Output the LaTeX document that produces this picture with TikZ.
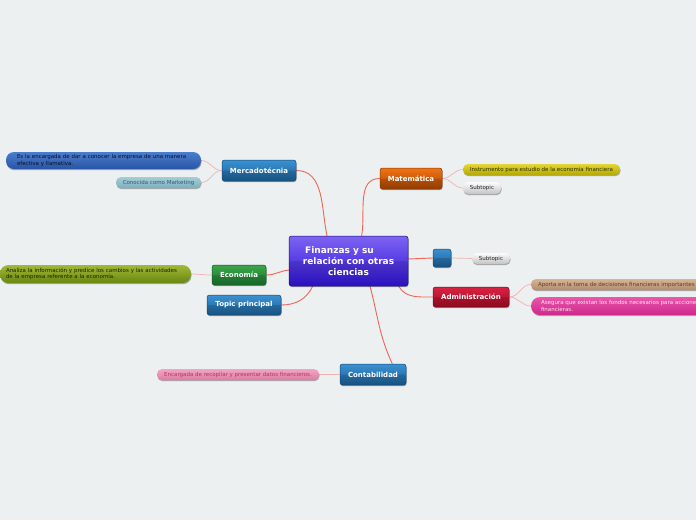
\documentclass[tikz,border=0pt]{standalone}
\usepackage{fontspec}
\setmainfont{DejaVu Sans}
\usetikzlibrary{shadows,backgrounds,calc}
\definecolor{bg}{RGB}{236,240,241}
\definecolor{mainline}{RGB}{240,100,85}
\definecolor{subline}{RGB}{244,176,176}
\definecolor{blueT}{RGB}{58,145,210}
\definecolor{blueB}{RGB}{28,95,150}
\definecolor{blueD}{RGB}{20,70,115}
\definecolor{purT}{RGB}{125,100,240}
\definecolor{purB}{RGB}{50,20,220}
\definecolor{purD}{RGB}{30,15,110}
\definecolor{grnT}{RGB}{60,165,75}
\definecolor{grnB}{RGB}{25,120,45}
\definecolor{grnD}{RGB}{20,85,35}
\definecolor{orT}{RGB}{240,115,20}
\definecolor{orB}{RGB}{170,70,0}
\definecolor{orD}{RGB}{130,55,0}
\definecolor{redT}{RGB}{215,35,65}
\definecolor{redB}{RGB}{165,10,35}
\definecolor{redD}{RGB}{120,10,30}
\definecolor{m1T}{RGB}{75,125,205}
\definecolor{m1B}{RGB}{40,85,165}
\definecolor{m1X}{RGB}{10,15,35}
\definecolor{m2T}{RGB}{165,205,215}
\definecolor{m2B}{RGB}{125,175,190}
\definecolor{m2X}{RGB}{40,95,110}
\definecolor{e1T}{RGB}{160,185,55}
\definecolor{e1B}{RGB}{105,135,15}
\definecolor{e1X}{RGB}{30,35,0}
\definecolor{yT}{RGB}{225,215,55}
\definecolor{yB}{RGB}{180,168,0}
\definecolor{yX}{RGB}{50,45,0}
\definecolor{wT}{RGB}{252,252,252}
\definecolor{wB}{RGB}{195,195,195}
\definecolor{wX}{RGB}{30,30,30}
\definecolor{tT}{RGB}{215,180,150}
\definecolor{tB}{RGB}{180,140,110}
\definecolor{tX}{RGB}{100,60,40}
\definecolor{pT}{RGB}{235,85,170}
\definecolor{pB}{RGB}{205,40,140}
\definecolor{pX}{RGB}{255,230,245}
\definecolor{kT}{RGB}{242,165,195}
\definecolor{kB}{RGB}{220,125,160}
\definecolor{kX}{RGB}{180,50,100}
\tikzset{
  gloss/.style={path picture={\fill[black,opacity=0.13] (path picture bounding box.west) rectangle (path picture bounding box.south east);}},
  shad/.style={drop shadow={shadow xshift=0.5pt,shadow yshift=-1.2pt,opacity=0.3,fill=black}},
  topic/.style n args={3}{rectangle,rounded corners=2.5pt,top color=#1,bottom color=#2,draw=#3,line width=0.5pt,
    text=white,font=\fontsize{7}{8}\selectfont\bfseries,inner sep=0pt,gloss,shad},
  pill/.style n args={3}{rectangle,rounded corners=5pt,top color=#1,bottom color=#2,draw=none,
    text=#3,font=\fontsize{5.5}{6.7}\selectfont,inner sep=0pt,shad},
  mline/.style={mainline,line width=0.9pt},
  sline/.style={subline,line width=0.7pt},
}
\begin{document}
\begin{tikzpicture}[x=1pt,y=-1pt]
\useasboundingbox (0,0) rectangle (696,520);
% central
\node[topic={purT}{purB}{purD},minimum width=119pt,minimum height=50pt,font=\fontsize{9}{11.3}\selectfont\bfseries,align=center] (c) at (348.5,261) {Finanzas y su\hspace*{18pt}\\relación con otras\\ciencias};
% main topics
\node[topic={blueT}{blueB}{blueD},minimum width=74pt,minimum height=21pt] (m) at (259,170.5) {Mercadotécnia};
\node[topic={grnT}{grnB}{grnD},minimum width=54pt,minimum height=20pt] (e) at (239,275) {Economía};
\node[topic={blueT}{blueB}{blueD},minimum width=74pt,minimum height=20pt] (tp) at (244,305) {Topic principal};
\node[topic={orT}{orB}{orD},minimum width=62pt,minimum height=21pt] (ma) at (411,178.5) {Matemática};
\node[topic={blueT}{blueB}{blueD},minimum width=18pt,minimum height=18pt] (sq) at (442,258) {};
\node[topic={redT}{redB}{redD},minimum width=76pt,minimum height=20pt] (ad) at (471,297) {Administración};
\node[topic={blueT}{blueB}{blueD},minimum width=66pt,minimum height=21pt] (co) at (373,374.5) {Contabilidad};
% children
\node[pill={m1T}{m1B}{m1X},rounded corners=8pt,minimum height=17pt,text width=173pt,inner xsep=11pt,align=left] (m1) at (103.5,160.5) {Es la encargada de dar a conocer la empresa de una manera\\efectiva y llamativa.};
\node[pill={m2T}{m2B}{m2X},minimum width=85pt,minimum height=11pt] (m2) at (158.5,182.5) {Conocida como Marketing};
\node[pill={e1T}{e1B}{e1X},rounded corners=8.5pt,minimum height=18pt,text width=179pt,inner xsep=6pt,align=left] (e1) at (95.5,274) {Analiza la información y predice los cambios y las actividades\\de la empresa referente a la economía.};
\node[pill={yT}{yB}{yX},minimum width=157pt,minimum height=11pt] (ma1) at (541.5,169.5) {Instrumento para estudio de la economia financiera};
\node[pill={wT}{wB}{wX},minimum width=38pt,minimum height=12pt] (ma2) at (482,188) {Subtopic};
\node[pill={wT}{wB}{wX},minimum width=38pt,minimum height=11pt] (sq1) at (491,258.5) {Subtopic};
\node[pill={tT}{tB}{tX},minimum height=11pt,text width=172pt,inner xsep=7pt,align=left] (ad1) at (624,284.5) {Aporta en la toma de decisiones financieras importantes};
\node[pill={pT}{pB}{pX},rounded corners=9pt,minimum height=18pt,text width=172pt,inner xsep=10pt,align=left] (ad2) at (627,306) {Asegura que existan los fondos necesarios para acciones\\financieras.};
\node[pill={kT}{kB}{kX},minimum width=162pt,minimum height=11pt] (co1) at (238,374.5) {Encargada de recopilar y presentar datos financieros.};
% connectors
\begin{scope}[on background layer]
\fill[bg] (0,0) rectangle (696,520);
\coordinate (cn1) at ($(c.north west)!0.32!(c.north east)$);
\coordinate (cn2) at ($(c.north west)!0.61!(c.north east)$);
\coordinate (cs1) at ($(c.south west)!0.20!(c.south east)$);
\coordinate (cs2) at ($(c.south west)!0.68!(c.south east)$);
\coordinate (cs3) at ($(c.south west)!0.92!(c.south east)$);
\coordinate (cw) at ($(c.north west)!0.68!(c.south west)$);
\coordinate (ce) at ($(c.north east)!0.46!(c.south east)$);
\coordinate (con) at ($(co.north west)!0.79!(co.north east)$);
\draw[mline] (m.east) to[out=0,in=102] (cn1);
\draw[mline] (ma.west) to[out=180,in=80] (cn2);
\draw[mline] (e.east) to[out=0,in=185] (cw);
\draw[mline] (tp.east) to[out=0,in=245] (cs1);
\draw[mline] (cs2) to[out=-75,in=115] (con);
\draw[mline] (cs3) to[out=-60,in=180] (ad.west);
\draw[mline] (ce) -- (sq.west);
\draw[sline] (m.west) to[out=180,in=0] (m1.east);
\draw[sline] (m.west) to[out=180,in=0] (m2.east);
\draw[sline] (e.west) to[out=180,in=0] (e1.east);
\draw[sline] (ma.east) to[out=0,in=180] (ma1.west);
\draw[sline] (ma.east) to[out=0,in=180] (ma2.west);
\draw[sline] (sq.east) -- (sq1.west);
\draw[sline] (ad.east) to[out=0,in=180] (ad1.west);
\draw[sline] (ad.east) to[out=0,in=180] (ad2.west);
\draw[sline] (co.west) -- (co1.east);
\end{scope}
\end{tikzpicture}
\end{document}
